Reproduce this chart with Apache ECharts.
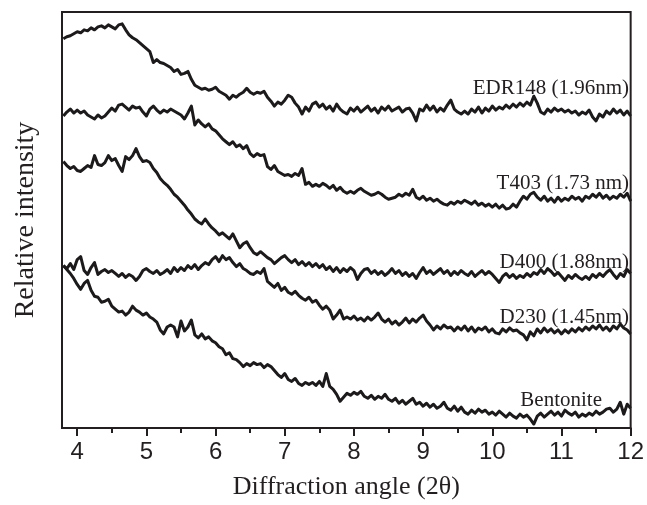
<!DOCTYPE html>
<html>
<head>
<meta charset="utf-8">
<script src="https://cdn.jsdelivr.net/npm/echarts@6/dist/echarts.min.js"></script>
<style>html,body{margin:0;padding:0;background:#fff}#c{width:647px;height:505px}</style>
</head>
<body>
<div id="c"></div>
<script>
// 2θ sampling positions
const twoTheta = [
 3.80,3.85,3.90,3.95,
 4.00,4.05,4.10,4.15,4.20,4.25,4.30,4.35,4.40,4.45,4.50,4.55,4.60,4.65,4.70,4.75,4.80,4.85,4.90,4.95,
 5.00,5.05,5.10,5.15,5.20,5.25,5.30,5.35,5.40,5.45,5.50,5.55,5.60,5.65,5.70,5.75,5.80,5.85,5.90,5.95,
 6.00,6.05,6.10,6.15,6.20,6.25,6.30,6.35,6.40,6.45,6.50,6.55,6.60,6.65,6.70,6.75,6.80,6.85,6.90,6.95,
 7.00,7.05,7.10,7.15,7.20,7.25,7.30,7.35,7.40,7.45,7.50,7.55,7.60,7.65,7.70,7.75,7.80,7.85,7.90,7.95,
 8.00,8.05,8.10,8.15,8.20,8.25,8.30,8.35,8.40,8.45,8.50,8.55,8.60,8.65,8.70,8.75,8.80,8.85,8.90,8.95,
 9.00,9.05,9.10,9.15,9.20,9.25,9.30,9.35,9.40,9.45,9.50,9.55,9.60,9.65,9.70,9.75,9.80,9.85,9.90,9.95,
 10.00,10.05,10.10,10.15,10.20,10.25,10.30,10.35,10.40,10.45,10.50,10.55,10.60,10.65,10.70,10.75,10.80,10.85,10.90,10.95,
 11.00,11.05,11.10,11.15,11.20,11.25,11.30,11.35,11.40,11.45,11.50,11.55,11.60,11.65,11.70,11.75,11.80,11.85,11.90,11.95,
 12.00
];

const edr148 = [
 393,395,396,398,
 400,399,402,401,404,402,405,406,404,407,405,403,407,408,402,397,394,392,389,386,
 383,380,369,372,369,368,366,364,360,362,357,358,360,352,346,344,342,343,341,342,
 344,340,338,336,332,336,334,337,339,343,339,337,339,338,340,334,330,325,329,327,
 331,336,334,328,324,317,324,320,327,329,324,327,322,325,320,327,322,319,317,323,
 320,324,319,322,325,320,323,318,324,321,325,320,322,324,319,322,323,318,310,322,
 320,326,321,325,319,323,320,326,331,322,319,317,320,317,322,319,324,318,323,320,
 325,321,324,322,326,323,327,324,328,325,329,326,335,328,319,317,322,319,323,320,
 322,319,321,318,320,316,319,317,321,314,310,317,314,320,317,322,318,321,316,320,
 315
];

const t403 = [
 315,319,322,318,
 321,318,320,316,314,312,316,313,315,319,323,320,326,327,324,321,325,323,324,319,
 315,322,325,321,318,321,319,322,320,318,316,312,318,325,306,311,307,304,307,302,
 300,296,292,289,286,289,284,286,282,285,277,274,277,275,276,264,261,265,259,257,
 255,256,254,257,255,262,246,248,244,246,244,247,245,242,245,240,243,239,237,239,
 237,240,242,239,237,235,236,238,236,233,231,232,233,236,234,237,235,241,233,231,
 234,230,232,229,231,228,226,225,228,226,229,227,230,228,226,229,225,227,224,226,
 223,226,222,225,221,222,226,223,229,234,231,236,238,233,230,234,229,232,228,233,
 229,232,230,234,231,233,229,234,232,236,233,237,232,235,231,234,232,236,233,237,
 229
];

const d400 = [
 269,265,262,264,
 260,259,262,265,263,275,266,265,268,275,270,272,265,259,274,271,275,282,274,269,
 270,268,262,258,252,248,245,241,236,233,229,225,220,216,211,208,206,211,206,202,
 199,195,197,194,191,196,189,182,186,188,182,177,175,178,175,172,170,166,169,172,
 174,170,167,170,165,168,164,167,163,166,162,165,160,163,158,162,157,161,158,162,
 159,150,156,160,161,156,159,155,158,154,157,161,156,159,154,157,153,156,151,157,
 162,156,159,155,158,161,156,159,154,158,155,159,156,154,158,153,156,159,155,158,
 155,151,147,153,156,152,155,151,154,152,156,153,157,155,160,156,161,158,154,157,
 153,149,154,151,155,152,150,153,150,155,152,156,153,157,160,155,151,156,153,160,
 156
];

const d230 = [
 164,161,166,160,
 170,173,159,155,162,167,155,158,160,157,159,156,153,156,152,155,153,149,153,159,
 161,158,156,159,155,157,160,156,162,158,162,159,164,161,165,160,164,167,165,170,
 173,168,174,170,172,167,163,166,161,159,156,155,158,156,161,148,145,142,146,139,
 142,137,135,138,134,131,129,132,127,129,124,120,123,119,110,114,119,110,112,110,
 113,109,111,108,112,109,112,116,110,107,110,105,108,104,107,111,106,110,107,111,
 114,108,104,99,103,100,104,101,102,98,102,99,103,98,102,97,101,99,102,97,
 100,96,95,100,97,101,98,99,96,94,89,97,93,100,96,101,97,100,96,99,
 95,99,96,100,97,101,98,102,99,103,100,104,99,102,98,103,100,105,101,99,
 95
];

const bentonite = [
 164,160,156,151,
 145,140,146,149,139,133,132,127,128,130,123,120,117,118,114,117,123,119,117,114,
 116,112,110,107,99,95,102,104,102,92,108,98,102,109,94,91,95,90,92,88,
 86,82,80,74,76,70,69,66,62,65,63,66,64,65,61,64,62,58,54,51,
 55,49,47,50,45,43,46,44,46,43,47,42,55,42,39,34,27,31,35,33,
 36,34,37,32,30,33,29,32,30,34,29,27,30,25,28,24,27,30,24,26,
 22,25,21,24,20,22,26,20,18,22,17,21,16,14,18,15,19,16,18,14,
 16,13,17,14,11,15,12,10,14,11,13,9,4,12,15,11,14,17,13,16,
 12,18,15,13,16,11,14,12,15,13,17,14,16,19,20,16,19,26,14,24,
 20
];

const seriesNames = ['EDR148 (1.96nm)','T403 (1.73 nm)','D400 (1.88nm)','D230 (1.45nm)','Bentonite'];
const seriesValues = [edr148, t403, d400, d230, bentonite];
const majorTicks = [4,5,6,7,8,9,10,11,12];
const minorTicks = [4.5,5.5,6.5,7.5,8.5,9.5,10.5,11.5];

const ink = '#231f20';
const lineInk = '#1c1a1b';
const serif = '"Liberation Serif", "Times New Roman", serif';
const sans = '"Liberation Sans", Arial, sans-serif';

const chart = echarts.init(document.getElementById('c'), null, {renderer: 'canvas'});

const series = seriesValues.map((vals, i) => ({
  name: seriesNames[i],
  type: 'line',
  xAxisIndex: 0,
  yAxisIndex: 0,
  data: twoTheta.map((x, k) => [x, vals[k]]),
  symbol: 'none',
  smooth: false,
  animation: false,
  lineStyle: {color: lineInk, width: 3, join: 'round'}
}));

chart.setOption({
  animation: false,
  backgroundColor: '#fff',
  grid: {left: 62, right: 16, top: 12, bottom: 73, show: true, borderColor: ink, borderWidth: 2, backgroundColor: 'transparent'},
  xAxis: [{
    type: 'value', min: 3.78, max: 12, position: 'bottom',
    name: 'Diffraction angle (2\u03b8)', nameLocation: 'middle', nameGap: 46,
    nameTextStyle: {fontFamily: serif, fontSize: 26, color: ink},
    axisLine: {show: true, lineStyle: {color: ink, width: 2}},
    axisTick: {show: true, inside: false, length: 8, lineStyle: {color: ink, width: 2}, customValues: majorTicks},
    axisLabel: {show: true, margin: 12, fontFamily: sans, fontSize: 24, color: ink, customValues: majorTicks},
    splitLine: {show: false}
  }, {
    type: 'value', min: 3.78, max: 12, position: 'bottom',
    axisLine: {show: false},
    axisTick: {show: true, inside: false, length: 5, lineStyle: {color: ink, width: 2}, customValues: minorTicks},
    axisLabel: {show: false},
    splitLine: {show: false}
  }],
  yAxis: {
    type: 'value', min: 0, max: 420,
    name: 'Relative intensity', nameLocation: 'middle', nameGap: 22, nameRotate: 90,
    nameTextStyle: {fontFamily: serif, fontSize: 28, color: ink},
    axisLine: {show: true, lineStyle: {color: ink, width: 2}},
    axisTick: {show: false}, axisLabel: {show: false}, splitLine: {show: false}
  },
  graphic: [
    {type: 'text', x: 629, y: 88, style: {text: seriesNames[0], align: 'right', verticalAlign: 'middle', font: '21px ' + serif, fill: ink}},
    {type: 'text', x: 629, y: 183, style: {text: seriesNames[1], align: 'right', verticalAlign: 'middle', font: '21px ' + serif, fill: ink}},
    {type: 'text', x: 629, y: 262, style: {text: seriesNames[2], align: 'right', verticalAlign: 'middle', font: '21px ' + serif, fill: ink}},
    {type: 'text', x: 629, y: 317, style: {text: seriesNames[3], align: 'right', verticalAlign: 'middle', font: '21px ' + serif, fill: ink}},
    {type: 'text', x: 602, y: 400, style: {text: seriesNames[4], align: 'right', verticalAlign: 'middle', font: '21px ' + serif, fill: ink}}
  ],
  series: series
});
</script>
</body>
</html>
